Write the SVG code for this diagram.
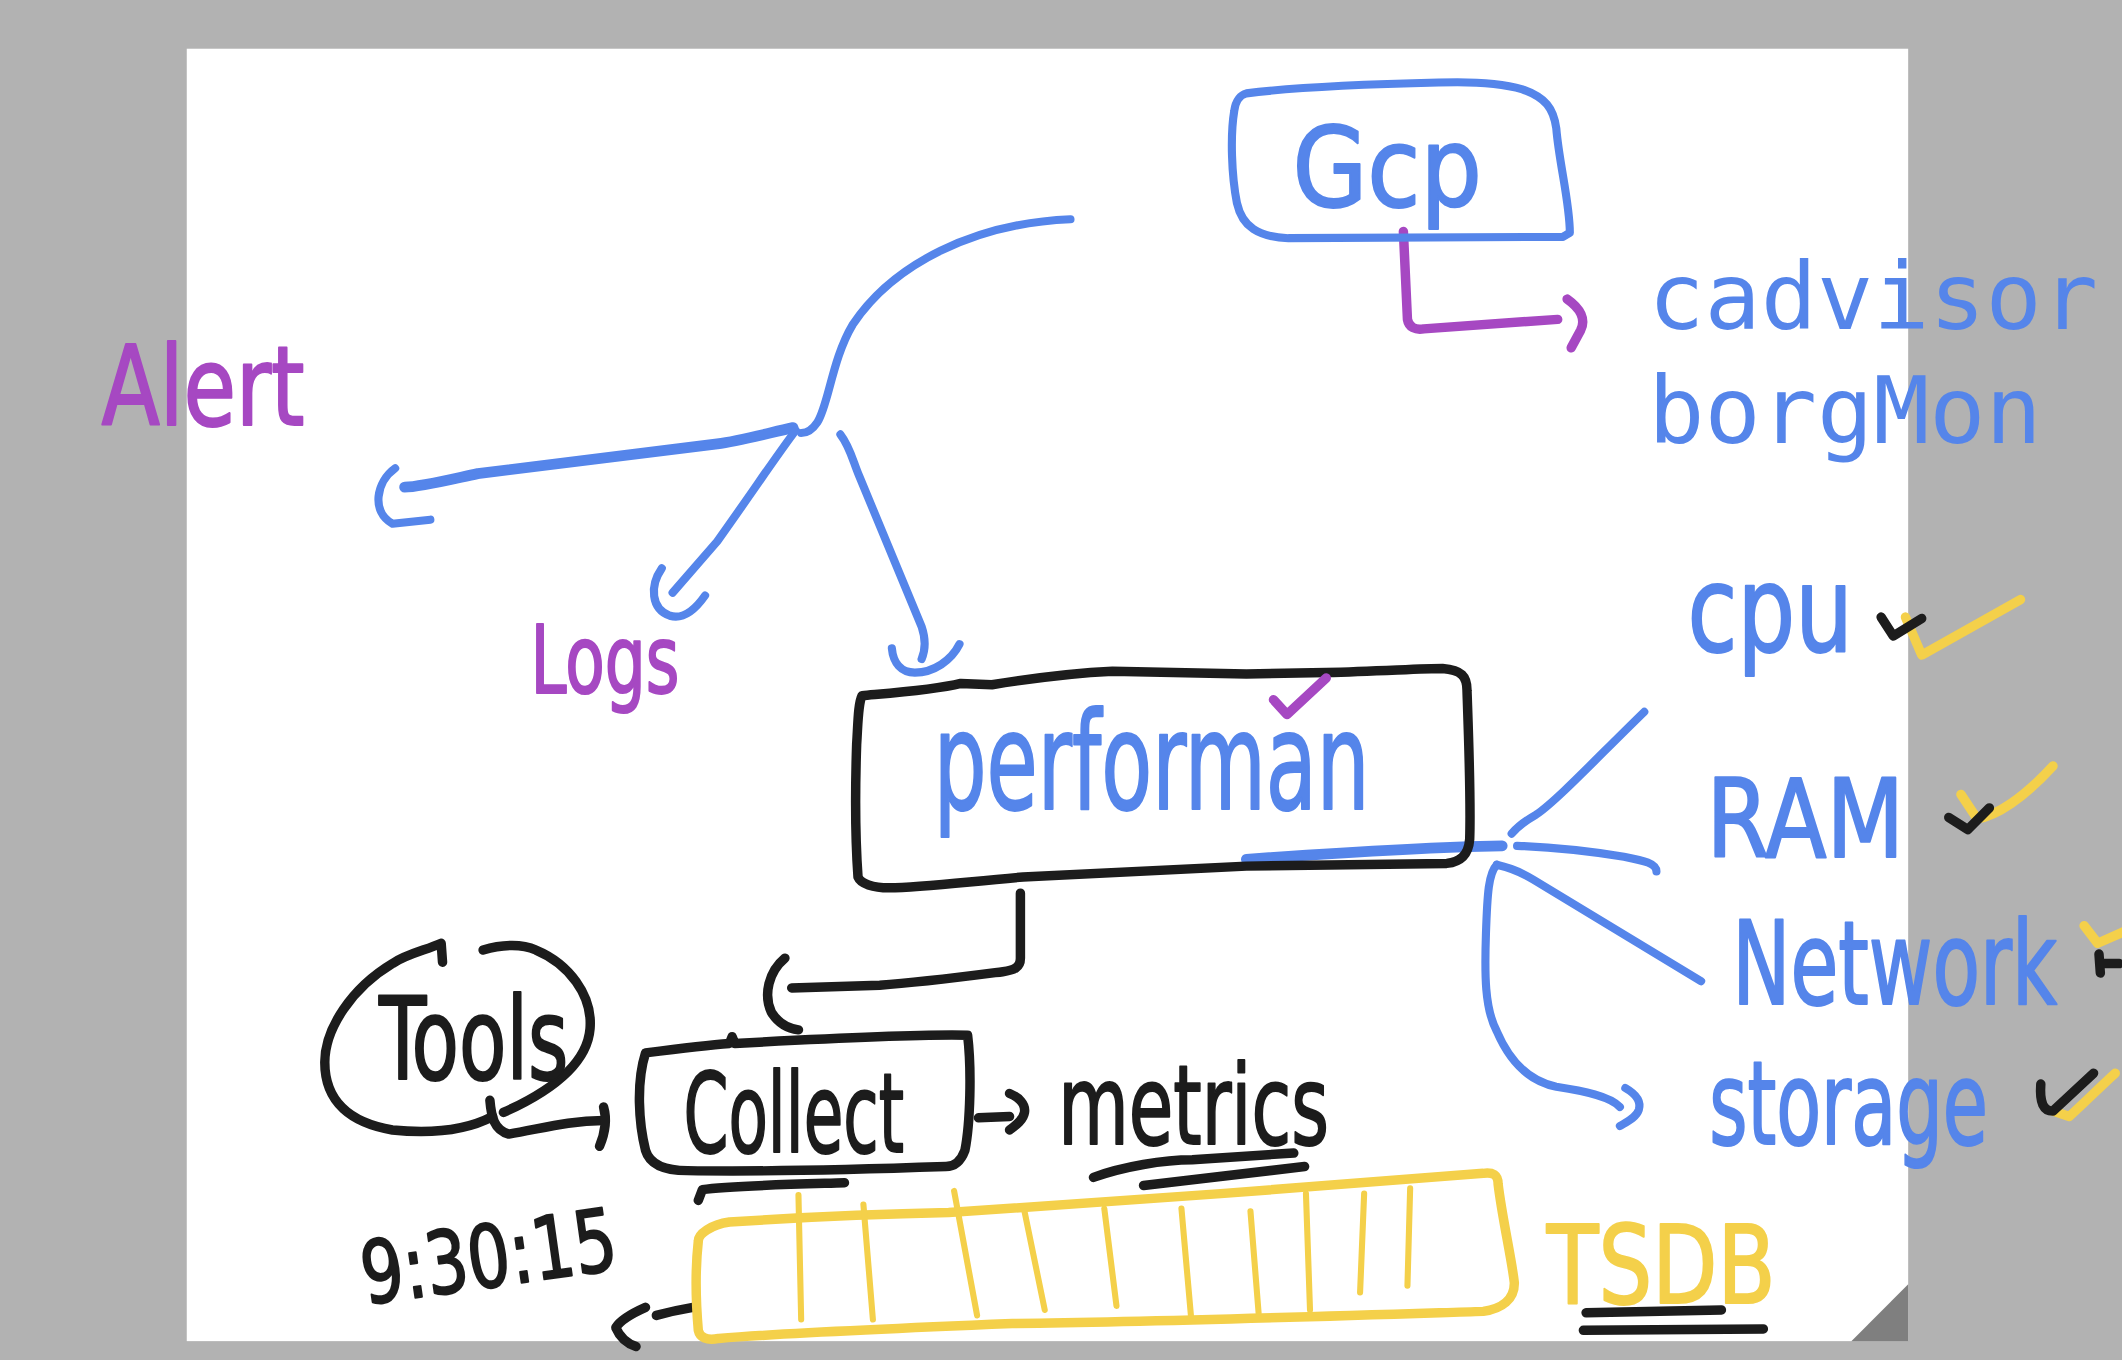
<svg xmlns="http://www.w3.org/2000/svg" width="2122" height="1360" viewBox="0 0 2122 1360">
<style>
.b{fill:none;stroke:#5585EA;stroke-width:6;stroke-linecap:round;stroke-linejoin:round}
.bt{fill:none;stroke:#5585EA;stroke-width:8;stroke-linecap:round;stroke-linejoin:round}
.k{fill:none;stroke:#1C1C1C;stroke-width:7;stroke-linecap:round;stroke-linejoin:round}
.p{fill:none;stroke:#A648C2;stroke-width:7;stroke-linecap:round;stroke-linejoin:round}
.y{fill:none;stroke:#F4D04A;stroke-width:7;stroke-linecap:round;stroke-linejoin:round}
.yt{fill:none;stroke:#F4D04A;stroke-width:4.5;stroke-linecap:round;stroke-linejoin:round}
.h{font-family:"Liberation Sans Narrow","DejaVu Sans Condensed","DejaVu Sans",sans-serif;stroke-width:1.5;stroke-linejoin:round}
.hb{fill:#5585EA;stroke:#5585EA}
.hp{fill:#A648C2;stroke:#A648C2}
.hk{fill:#1C1C1C;stroke:#1C1C1C}
.hy{fill:#F4D04A;stroke:#F4D04A}
.mono{font-family:"DejaVu Sans Mono",monospace;font-size:69px;fill:#5585EA}
</style>
<rect width="2122" height="1360" fill="#B2B2B2"/>
<g transform="scale(1.353316)">
<rect x="138" y="36" width="1272" height="955" fill="#FFFFFF"/>
<polygon points="1368,991 1410,949 1410,991" fill="#7F7F7F"/>

<g id="connectors">
<path class="p" d="M1037,171 L1040,236 C1041,242 1046,244 1052,243 L1151,236"/>
<path class="p" d="M1158,221 C1168,228 1172,236 1168,244 L1161,257"/>
<path class="b" d="M791,162 C720,165 660,195 630,240 C615,265 612,300 604,312 C600,318 596,320 592,320"/>
<path class="bt" d="M586,316 C560,322 545,326 530,328 L353,350 C330,355 310,360 299,360"/>
<path class="b" d="M292,346 C278,356 274,378 290,387 L318,384"/>
<path class="b" d="M588,318 C575,335 555,365 530,400 L497,438"/>
<path class="b" d="M489,420 C480,433 481,450 495,455 C505,458 514,450 521,440"/>
<path class="b" d="M621,321 C628,330 630,340 635,352 L681,463 C684,472 684,480 681,487"/>
<path class="b" d="M659,479 C660,490 666,497 676,497 C690,497 703,488 709,476"/>
<path class="bt" d="M921,635 C990,630 1050,626 1110,625"/>
<path class="b" d="M1117,616 C1122,610 1128,606 1135,602 C1150,592 1180,560 1215,526"/>
<path class="b" d="M1121,625 C1150,626 1175,629 1200,633 C1215,636 1224,638 1224,644"/>
<path class="b" d="M1106,639 C1115,641 1125,645 1133,650 L1257,725"/>
<path class="b" d="M1106,639 C1100,645 1099,660 1098,690 C1097,720 1097,745 1106,762 C1118,790 1135,800 1150,803 C1170,806 1190,810 1197,818"/>
<path class="b" d="M1201,804 C1208,808 1213,813 1211,820 C1209,826 1202,829 1197,832"/>
<path class="k" d="M754,660 L754,708 C754,715 749,717 741,718 C710,722 680,726 650,728 L585,730"/>
<path class="k" d="M580,708 C568,718 564,735 570,748 C575,756 582,760 590,761"/>
<path class="k" d="M362,813 C363,825 365,835 376,838 C400,834 420,828 446,828"/>
<path class="k" d="M446,818 C448,825 448,835 443,847"/>
<path class="k" d="M723,826 L746,825"/>
<path class="k" d="M746,808 C753,811 758,816 757,822 C756,828 750,832 746,835"/>
<path class="k" d="M512,966 C500,968 492,970 485,972"/>
<path class="k" d="M477,966 C468,970 458,976 455,981 C458,988 464,993 470,995"/>
</g>

<g id="gcp">
<path class="b" d="M921,69 C960,64 1020,62 1063,61 C1090,60 1111,62 1125,66 C1142,72 1148,80 1150,95 C1152,120 1160,150 1160,172 L1155,175 L952,176 C930,175 918,168 914,150 C910,130 909,100 912,82 C913,74 917,70 921,69 Z"/>
<text class="h hb" x="955" y="152" font-size="82" textLength="140" lengthAdjust="spacingAndGlyphs">Gcp</text>
</g>

<g id="cadvisor">
<text class="mono" x="1218" y="243">cadvisor</text>
<text class="mono" x="1218" y="327">borgMon</text>
</g>

<g id="alert">
<text class="h hp" x="75" y="314" font-size="82" textLength="150" lengthAdjust="spacingAndGlyphs">Alert</text>
</g>

<g id="logs">
<text class="h hp" x="392" y="512" font-size="70" textLength="110" lengthAdjust="spacingAndGlyphs">Logs</text>
</g>

<g id="performance">
<path class="k" d="M637,514 C660,512 690,510 710,505 L733,506 C770,500 800,497 822,496 L921,498 L980,497 C1020,496 1050,494 1066,494 C1080,495 1084,500 1084,510 C1085,540 1087,590 1086,620 C1085,633 1078,637 1069,638 L921,640 C850,643 800,646 756,648 C710,652 680,656 657,656 C645,656 636,653 634,648 C632,620 632,580 633,550 C634,535 634,520 637,514 Z"/>
<text class="h hb" x="690" y="598" font-size="100" textLength="322" lengthAdjust="spacingAndGlyphs">performan</text>
<path class="p" d="M941,517 L951,528 L980,501"/>
</g>

<g id="cpu">
<text class="h hb" x="1247" y="481" font-size="88" textLength="122" lengthAdjust="spacingAndGlyphs">cpu</text>
<path class="y" d="M1408,456 L1420,484 L1493,443"/>
<path class="k" d="M1390,456 L1399,470 L1420,457"/>
</g>

<g id="ram">
<text class="h hb" x="1261" y="633" font-size="80" textLength="146" lengthAdjust="spacingAndGlyphs">RAM</text>
<path class="y" d="M1449,587 L1461,605 C1475,603 1495,590 1517,566"/>
<path class="k" d="M1440,604 L1454,613 L1470,597"/>
</g>

<g id="network">
<text class="h hb" x="1280" y="742" font-size="86" textLength="240" lengthAdjust="spacingAndGlyphs">Network</text>
<path class="y" d="M1540,684 L1550,697 L1575,686"/>
<path class="k" d="M1551,705 L1552,719 M1552,712 L1566,712"/>
</g>

<g id="storage">
<text class="h hb" x="1263" y="845" font-size="86" textLength="206" lengthAdjust="spacingAndGlyphs">storage</text>
<path class="y" d="M1517,821 L1529,825 C1540,815 1552,803 1563,793"/>
<path class="k" d="M1508,801 C1507,815 1510,821 1517,821 L1547,793"/>
</g>

<g id="tools">
<path class="k" d="M327,711 L326,697 C315,702 300,705 290,712 C260,730 240,760 240,785 C240,815 260,830 290,835 C320,838 345,835 364,825"/>
<path class="k" d="M357,702 C370,698 385,697 396,702 C420,712 438,735 436,760 C434,785 410,805 372,822"/>
<text class="h hk" x="280" y="797" font-size="84" textLength="140" lengthAdjust="spacingAndGlyphs">Tools</text>
</g>

<g id="collect">
<path class="k" d="M477,778 C500,775 525,772 539,771 L541,766 L543,771 C600,768 680,764 715,765 C718,790 717,830 713,850 C710,858 705,862 699,862 C640,864 560,866 508,865 C490,865 480,860 477,850 C472,830 470,800 477,778 Z"/>
<text class="h hk" x="505" y="851" font-size="82" textLength="163" lengthAdjust="spacingAndGlyphs">Collect</text>
<path class="k" d="M516,887 L519,879 C540,876 590,875 624,874"/>
</g>

<g id="metrics">
<text class="h hk" x="782" y="845" font-size="82" textLength="200" lengthAdjust="spacingAndGlyphs">metrics</text>
<path class="k" d="M808,870 C830,862 860,857 881,857 L956,852"/>
<path class="k" d="M845,876 L964,862"/>
</g>

<g id="tsdb">
<path class="y" d="M516,917 C516,912 525,905 539,903 C600,899 650,897 701,896 C780,890 850,885 902,882 C980,876 1050,870 1096,867 C1103,866 1107,868 1107,875 C1110,900 1117,930 1119,948 C1119,960 1110,967 1096,969 C1000,972 850,977 748,978 C650,982 580,985 531,989 C522,991 517,988 516,983 C514,960 514,935 516,917 Z"/>
<path class="yt" d="M590,883 L592,975 M638,890 L645,975 M705,880 L722,972 M757,895 L772,968 M816,893 L825,965 M873,893 L880,972 M924,895 L930,970 M965,882 L968,968 M1008,882 L1005,955 M1042,878 L1040,950"/>
<text class="h hy" x="1143" y="963" font-size="80" textLength="169" lengthAdjust="spacingAndGlyphs">TSDB</text>
<path class="k" d="M1172,970 L1272,968 M1170,983 L1303,982"/>
</g>

<g id="time">
<text class="h hk" x="270" y="964" font-size="64" textLength="190" lengthAdjust="spacingAndGlyphs" transform="rotate(-8 270 964)">9:30:15</text>
</g>
</g>
</svg>
